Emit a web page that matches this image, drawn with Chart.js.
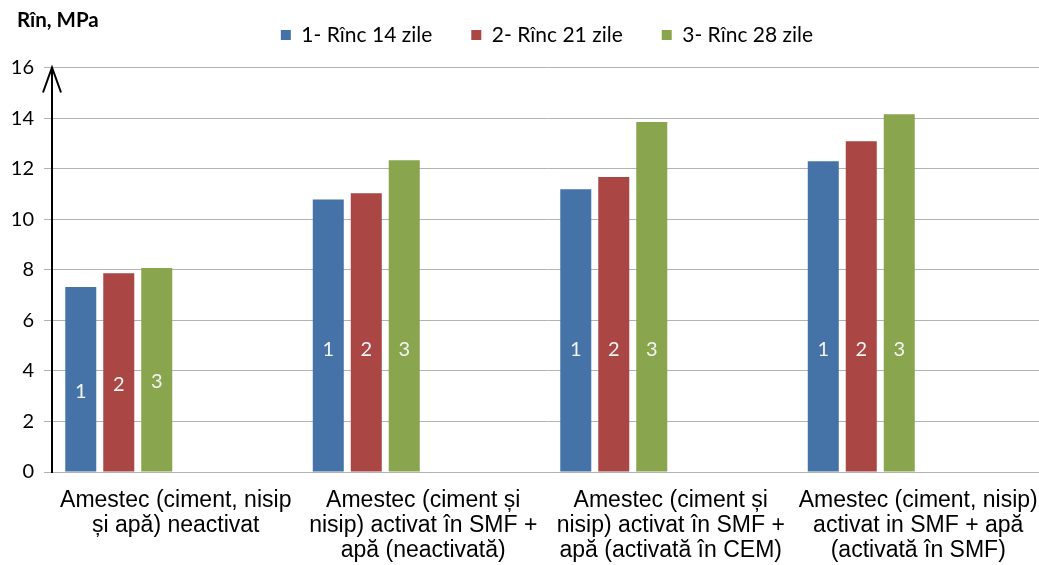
<!DOCTYPE html>
<html>
<head>
<meta charset="utf-8">
<script src="https://cdn.jsdelivr.net/npm/chart.js@4.4.1/dist/chart.umd.min.js"></script>
<style>
html,body{margin:0;padding:0;background:#fff;overflow:hidden;}
#wrap{width:1042px;height:565px;position:relative;}
</style>
</head>
<body>
<div id="wrap"><canvas id="c"></canvas></div>
<script>
const categories = [
  ['Amestec (ciment, nisip', 'și apă) neactivat'],
  ['Amestec (ciment și', 'nisip) activat în SMF +', 'apă (neactivată)'],
  ['Amestec (ciment și', 'nisip) activat în SMF +', 'apă (activată în CEM)'],
  ['Amestec (ciment, nisip)', 'activat in SMF + apă', '(activată în SMF)']
];
const seriesNames = ['1- Rînc 14 zile', '2- Rînc 21 zile', '3- Rînc 28 zile'];
const series14 = [7.32, 10.78, 11.18, 12.29];
const series21 = [7.86, 11.03, 11.67, 13.08];
const series28 = [8.07, 12.33, 13.84, 14.15];
const emptySeries = [null, null, null, null];
const barLabels = ['1', '2', '3'];
const yTicks = [0, 2, 4, 6, 8, 10, 12, 14, 16];
const yTitle = 'Rîn, MPa';
const labelLevel = 4.85;

const colors = ['#4572A7', '#AA4643', '#89A54E'];
const calibri = 'Lato, "Noto Sans", sans-serif';

const legendGapPlugin = {
  id: 'legendGap',
  beforeLayout(chart) {
    const lg = chart.legend;
    if (lg && !lg._gapPatched) {
      const f = lg.fit.bind(lg);
      lg.fit = function () { f(); this.height += 12; };
      lg._gapPatched = true;
    }
  }
};

const barLabelPlugin = {
  id: 'barLabels',
  afterDatasetsDraw(chart) {
    const ctx = chart.ctx;
    const ys = chart.scales.y;
    ctx.save();
    ctx.font = '20px ' + calibri;
    ctx.fillStyle = '#f4f4f4';
    ctx.textAlign = 'center';
    ctx.textBaseline = 'middle';
    [0, 1, 2].forEach(di => {
      chart.getDatasetMeta(di).data.forEach(bar => {
        const mid = (bar.y + bar.base) / 2 + 12;
        const y = Math.max(mid, ys.getPixelForValue(labelLevel));
        ctx.fillText(barLabels[di], bar.x, y);
      });
    });
    ctx.restore();
  }
};

const decorPlugin = {
  id: 'decor',
  afterDraw(chart) {
    const ctx = chart.ctx;
    const a = chart.chartArea;
    ctx.save();
    ctx.strokeStyle = '#000';
    ctx.lineWidth = 2;
    ctx.beginPath();
    ctx.moveTo(a.left - 9, a.top + 25);
    ctx.lineTo(a.left, a.top);
    ctx.lineTo(a.left + 9, a.top + 25);
    ctx.stroke();
    ctx.font = 'bold 20.5px ' + calibri;
    ctx.fillStyle = '#000';
    ctx.textAlign = 'left';
    ctx.textBaseline = 'middle';
    ctx.fillText(yTitle, 17, 20);
    ctx.restore();
  }
};

const datasets = [series14, series21, series28].map((d, i) => ({
  label: seriesNames[i], data: d, backgroundColor: colors[i], borderWidth: 0
}));
for (let k = 0; k < 3; k++) datasets.push({label: '', data: emptySeries, backgroundColor: 'rgba(0,0,0,0)'});

new Chart(document.getElementById('c'), {
  type: 'bar',
  data: {labels: categories, datasets},
  options: {
    responsive: true,
    maintainAspectRatio: false,
    animation: false,
    categoryPercentage: 0.921,
    barPercentage: 0.816,
    layout: {padding: {top: -14.5, left: 0, right: 0, bottom: 0}},
    plugins: {
      legend: {
        position: 'top',
        fullSize: false,
        labels: {
          boxWidth: 10, boxHeight: 10, padding: 39, color: '#000',
          font: {family: calibri, size: 21},
          filter: item => item.text !== ''
        }
      },
      tooltip: {enabled: false}
    },
    scales: {
      x: {
        grid: {display: false, drawTicks: false, tickLength: 0},
        border: {display: true, color: '#b3b3b3', width: 1},
        ticks: {color: '#000', font: {family: '"Liberation Sans", Arial, sans-serif', size: 23, lineHeight: 1.09}, padding: 16, maxRotation: 0, autoSkip: false},
        afterFit: s => { s.height = 93; s.paddingLeft = 0; s.paddingRight = 0; }
      },
      y: {
        min: 0, max: 16,
        afterBuildTicks: s => { s.ticks = yTicks.map(v => ({value: v})); },
        grid: {color: '#b3b3b3', lineWidth: 1, tickLength: 8},
        border: {display: true, color: '#000', width: 2},
        ticks: {color: '#000', font: {family: calibri, size: 20}, padding: 10},
        afterFit: s => { s.width = 52; }
      }
    }
  },
  plugins: [legendGapPlugin, barLabelPlugin, decorPlugin]
});
</script>
</body>
</html>
